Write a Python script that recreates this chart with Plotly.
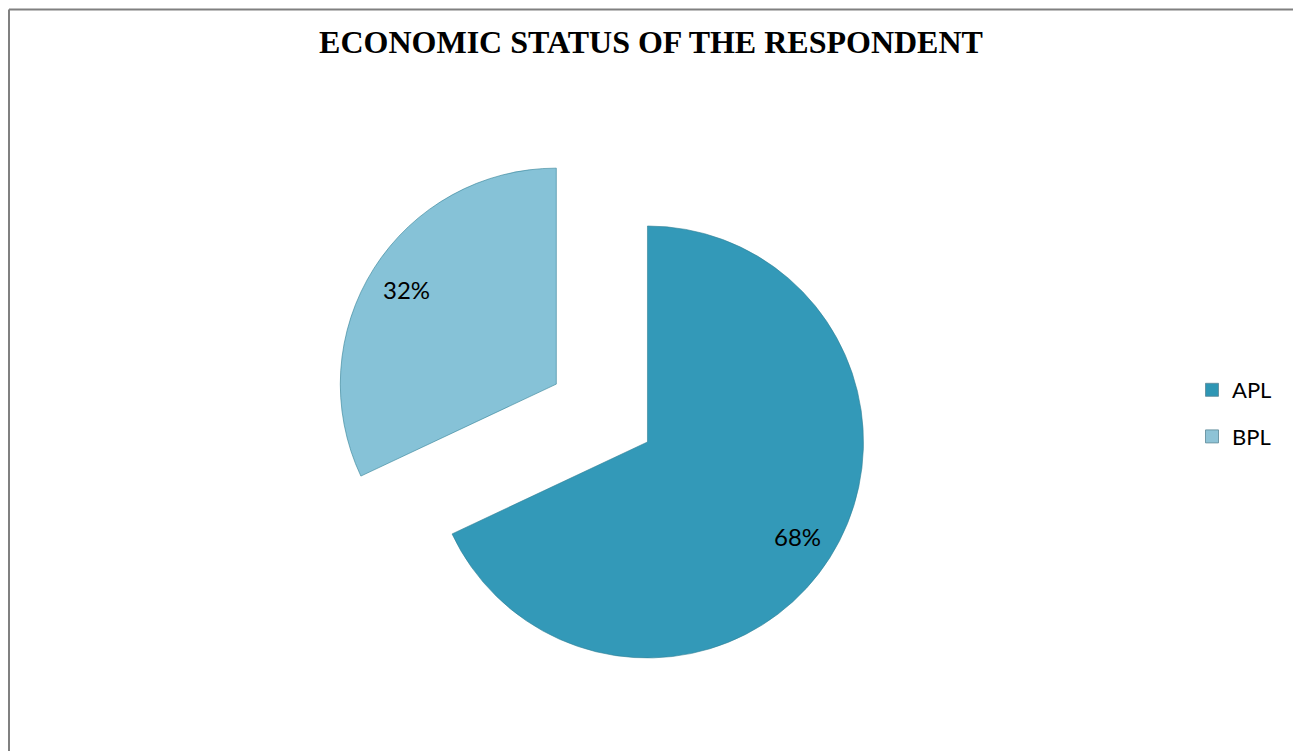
import math
import plotly.graph_objects as go

# Economic status shares of respondents
categories = ["APL", "BPL"]
shares = [68, 32]
slice_colors = ["#3399b8", "#86c2d7"]
legend_colors = ["#2e96b4", "#8ec3d6"]

W, H = 1293, 751
PULL = 0.25
DOMAIN_X = [0.245, 0.686]
DOMAIN_Y = [0.0905, 0.8095]
LABEL_FRAC = 0.82

fig = go.Figure()

fig.add_trace(go.Pie(
    labels=categories,
    values=shares,
    sort=False,
    direction="clockwise",
    rotation=0,
    pull=[PULL] * len(shares),
    marker=dict(colors=slice_colors, line=dict(color="#2f7f96", width=0.6)),
    textinfo="none",
    hoverinfo="label+percent",
    domain=dict(x=DOMAIN_X, y=DOMAIN_Y),
    showlegend=False,
))

# Legend entries (square swatches), kept in separate groups for spacing
for name, col in zip(categories, legend_colors):
    fig.add_trace(go.Scatter(
        x=[None], y=[None], mode="markers", name=name, legendgroup=name,
        marker=dict(symbol="square", size=13, color=col,
                    line=dict(color="#5a8796", width=0.8)),
        hoverinfo="skip",
    ))

# Percentage labels placed along each slice's mid-angle (same geometry as the pie)
box_w = (DOMAIN_X[1] - DOMAIN_X[0]) * W
box_h = (DOMAIN_Y[1] - DOMAIN_Y[0]) * H
r = min(box_w, box_h) / (2 + 2 * PULL)
cx = (DOMAIN_X[0] + DOMAIN_X[1]) / 2 * W
cy = H * (1 - DOMAIN_Y[0]) - box_h / 2
total = sum(shares)
start = 0.0
for val in shares:
    frac = val / total
    mid = (start + frac / 2) * 2 * math.pi
    start += frac
    dist = (PULL + LABEL_FRAC) * r
    px = cx + dist * math.sin(mid)
    py = cy - dist * math.cos(mid)
    fig.add_annotation(
        x=px / W, y=1 - py / H, xref="paper", yref="paper",
        text=f"{round(frac * 100)}%", showarrow=False,
        font=dict(family="Lato, 'Open Sans', sans-serif", size=24, color="#000000"),
        xanchor="center", yanchor="middle",
    )

# Frame lines along the top and left edges
fig.add_shape(type="line", xref="paper", yref="paper",
              x0=9 / W, y0=1 - 9.5 / H, x1=1.0, y1=1 - 9.5 / H,
              line=dict(color="#808080", width=2))
fig.add_shape(type="line", xref="paper", yref="paper",
              x0=9 / W, y0=1 - 9.5 / H, x1=9 / W, y1=0.0,
              line=dict(color="#808080", width=2))

fig.update_layout(
    width=W, height=H,
    margin=dict(l=0, r=0, t=0, b=0, autoexpand=False),
    paper_bgcolor="white",
    plot_bgcolor="white",
    title=dict(
        text="<b>ECONOMIC STATUS OF THE RESPONDENT</b>",
        x=651 / W, y=1 - 42 / H, xanchor="center", yanchor="middle",
        xref="container", yref="container",
        font=dict(family="'Liberation Serif', 'Times New Roman', serif", size=32, color="#000000"),
    ),
    xaxis=dict(visible=False),
    yaxis=dict(visible=False),
    legend=dict(
        x=1192 / W, y=1 - 369 / H, xref="container", yref="container",
        xanchor="left", yanchor="top",
        font=dict(family="Lato, 'Open Sans', sans-serif", size=22, color="#000000"),
        tracegroupgap=15,
        itemclick=False, itemdoubleclick=False,
        bgcolor="rgba(0,0,0,0)",
    ),
)

fig.write_html("out.html")
